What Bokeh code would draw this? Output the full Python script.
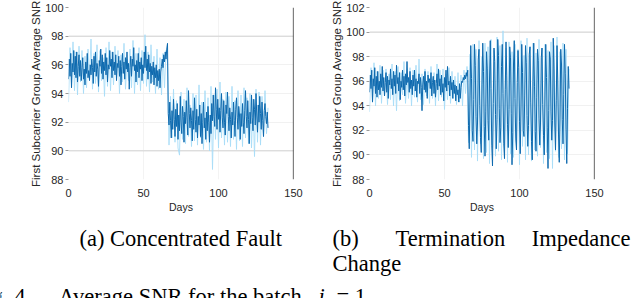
import numpy as np
from bokeh.plotting import figure
from bokeh.models import Range1d, FixedTicker, Span
from bokeh.layouts import row, column
from bokeh.core.properties import value
from bokeh.embed import file_html
from bokeh.resources import INLINE

# ---------------- data ----------------
x_ticks = [0, 50, 100, 150]
left_yticks = [88, 90, 92, 94, 96, 98, 100]
right_yticks = [88, 90, 92, 94, 96, 98, 100, 102]

# time axis (days): dark series sampled every half day, light series daily
days_half = np.arange(0, 133.01, 0.5)
days_full = np.arange(0, 134, 1)

# (a) Concentrated fault: dark series, days 0..66 then 66.5..133
a_dark_before = [
    95.0, 96.4, 95.2, 96.8, 94.4, 96.1, 95.5, 97.0, 95.3, 96.6,
    95.1, 96.9, 94.8, 95.9, 96.7, 95.2, 96.3, 94.9, 95.8, 96.5,
    95.0, 95.7, 94.6, 96.2, 95.4, 96.8, 95.1, 95.6, 94.9, 96.0,
    95.3, 96.4, 95.8, 94.7, 96.6, 95.5, 96.9, 95.2, 96.1, 95.7,
    94.5, 96.3, 95.9, 97.1, 95.4, 96.7, 95.0, 96.2, 95.6, 96.8,
    95.3, 96.5, 94.8, 96.0, 95.7, 97.0, 95.9, 96.4, 95.1, 96.9,
    95.6, 96.2, 95.3, 96.7, 94.9, 96.1, 95.8, 96.6, 95.2, 96.3,
    94.6, 95.9, 96.8, 95.4, 96.2, 95.0, 96.5, 95.7, 96.9, 95.5,
    96.1, 94.3, 95.8, 96.6, 95.2, 96.4, 95.9, 97.2, 95.6, 96.0,
    94.8, 96.3, 95.5, 96.8, 95.1, 96.2, 95.7, 96.5, 94.9, 96.0,
    95.4, 96.9, 95.8, 97.3, 95.6, 96.4, 95.0, 96.7, 95.5, 96.1,
    94.7, 95.9, 95.3, 96.2, 94.6, 95.8, 95.1, 96.0, 94.5, 95.6,
    94.9, 95.7, 94.4, 95.5, 95.9, 96.4, 95.8, 96.7, 96.2, 96.9,
    96.4, 97.1, 97.5,
]
a_dark_after = [
    92.6, 91.8, 93.4, 92.1, 90.9, 92.8, 91.5, 93.6, 92.2, 91.0,
    92.9, 91.7, 93.3, 90.8, 92.5, 91.4, 93.8, 92.0, 91.2, 93.1,
    92.4, 90.6, 92.7, 91.9, 93.5, 92.3, 91.1, 94.2, 92.6, 91.6,
    93.0, 92.1, 90.7, 92.8, 91.5, 93.7, 92.2, 91.3, 92.9, 90.9,
    92.4, 91.8, 93.2, 91.0, 92.6, 90.5, 92.0, 93.4, 91.6, 92.3,
    90.8, 92.7, 91.4, 93.1, 92.0, 90.6, 92.5, 91.2, 93.3, 92.1,
    93.9, 92.4, 91.7, 94.4, 92.9, 91.5, 93.6, 92.2, 93.0, 91.3,
    92.8, 94.0, 92.3, 91.6, 93.5, 92.0, 91.1, 93.2, 92.6, 94.1,
    92.4, 91.4, 93.0, 92.2, 90.9, 92.7, 91.8, 93.4, 92.1, 91.0,
    92.9, 93.7, 92.3, 91.5, 93.1, 92.5, 90.8, 92.6, 91.7, 93.3,
    92.0, 91.2, 92.8, 94.2, 92.4, 91.6, 93.5, 92.2, 90.5, 92.7,
    91.9, 93.9, 92.3, 91.4, 93.6, 92.9, 91.8, 94.0, 92.5, 91.3,
    93.2, 92.0, 93.8, 92.6, 91.5, 93.4, 92.1, 91.0, 92.8, 93.3,
    92.4, 91.9, 92.7, 91.6,
]
# (a) light series, days 0..66 then 67..133
a_light_before = [
    93.4, 97.2, 94.6, 97.6, 94.2, 96.9, 93.9, 97.3, 94.8, 97.0,
    94.0, 96.6, 94.4, 97.1, 95.0, 97.8, 94.3, 96.8, 94.7, 97.4,
    94.1, 97.0, 94.9, 96.5, 93.8, 97.2, 94.5, 97.6, 94.2, 96.9,
    94.6, 97.3, 95.1, 97.0, 94.0, 96.7, 94.8, 97.5, 94.3, 96.4,
    94.9, 97.1, 94.4, 97.7, 94.0, 96.8, 94.6, 97.2, 94.2, 97.0,
    94.7, 98.1, 94.5, 96.9, 94.1, 97.4, 94.8, 96.6, 94.0, 97.1,
    94.3, 96.5, 93.9, 96.8, 94.4, 97.0, 96.2,
]
a_light_after = [
    90.4, 93.8, 90.9, 94.3, 90.6, 93.5, 90.2, 89.7, 94.1, 90.8,
    93.6, 90.5, 94.4, 91.0, 93.2, 90.3, 94.0, 90.7, 93.9, 90.4,
    94.6, 90.9, 93.4, 90.1, 94.2, 90.6, 93.7, 90.0, 94.5, 88.7,
    93.9, 90.8, 94.3, 90.2, 94.8, 90.9, 93.6, 90.4, 94.1, 90.6,
    93.8, 90.3, 94.5, 90.8, 93.5, 90.1, 94.2, 90.7, 93.9, 90.3,
    94.4, 90.9, 93.7, 90.5, 94.0, 90.2, 93.6, 89.6, 94.3, 90.6,
    94.1, 90.4, 93.8, 91.0, 94.2, 91.2, 93.0,
]

# (b) Termination impedance change: dark series, days 0..65.5 then 66..133
b_dark_before = [
    95.1, 96.5, 95.4, 96.9, 94.3, 96.2, 95.6, 97.1, 95.0, 96.4,
    94.7, 96.8, 95.3, 96.0, 94.9, 96.6, 95.5, 97.2, 95.2, 96.3,
    94.8, 95.9, 96.7, 95.1, 96.4, 94.6, 96.1, 95.7, 97.0, 95.4,
    96.2, 94.9, 96.8, 95.6, 96.5, 95.0, 97.3, 95.8, 96.3, 95.2,
    96.7, 94.5, 96.0, 95.5, 96.9, 95.3, 96.4, 94.8, 96.6, 95.7,
    97.6, 95.9, 96.3, 95.1, 96.8, 95.4, 96.1, 94.9, 96.5, 95.6,
    96.9, 95.2, 96.2, 94.7, 96.0, 95.8, 96.6, 95.0, 96.3, 95.5,
    93.6, 95.7, 96.4, 95.3, 96.8, 95.1, 96.0, 94.6, 96.5, 95.9,
    96.2, 95.4, 96.7, 94.8, 95.9, 96.4, 95.0, 96.1, 94.7, 95.8,
    96.6, 95.3, 97.0, 95.6, 96.2, 94.9, 96.5, 95.1, 95.8, 94.4,
    96.3, 95.5, 96.9, 95.2, 97.2, 95.7, 96.0, 94.8, 96.4, 95.3,
    95.9, 94.6, 96.1, 95.0, 95.7, 94.4, 95.6, 94.9, 95.3, 94.3,
    95.8, 94.6, 95.5, 96.0, 95.9, 96.3, 96.1, 96.5, 96.2, 96.7,
    96.4, 96.9,
]
b_dark_after = [
    92.4, 90.5, 94.8, 98.9, 96.2, 92.0, 91.1, 94.5, 99.0, 97.3,
    93.1, 90.9, 92.6, 97.8, 98.6, 94.0, 91.4, 90.2, 95.7, 99.1,
    96.8, 92.3, 89.9, 93.5, 98.4, 97.0, 92.8, 91.2, 96.1, 99.3,
    95.4, 90.8, 89.1, 94.2, 98.7, 97.6, 93.3, 90.5, 92.9, 99.4,
    98.1, 93.8, 91.0, 92.2, 97.2, 99.0, 95.0, 90.9, 89.7, 95.3,
    99.2, 96.5, 92.5, 90.6, 93.7, 98.8, 97.9, 93.4, 89.2, 91.8,
    97.4, 99.3, 94.6, 91.3, 90.4, 95.9, 98.5, 97.1, 92.7, 90.1,
    93.9, 99.0, 96.7, 92.0, 91.5, 94.8, 98.9, 97.5, 93.2, 90.7,
    92.4, 98.2, 98.8, 94.3, 91.1, 89.6, 96.0, 99.1, 95.6, 91.9,
    90.3, 94.7, 98.6, 97.7, 93.0, 90.8, 92.6, 97.9, 98.7, 94.1,
    91.6, 90.0, 95.2, 99.0, 96.3, 92.2, 88.9, 93.6, 98.4, 97.8,
    93.5, 91.2, 92.8, 99.5, 97.0, 92.6, 90.4, 94.4, 98.9, 96.1,
    91.7, 89.4, 93.0, 98.6, 97.4, 92.9, 90.9, 94.9, 99.0, 96.6,
    92.1, 89.3, 93.8, 97.2, 95.4,
]
# (b) light series, days 0..65 then 66..133
b_light_before = [
    93.5, 97.1, 94.3, 97.5, 94.0, 96.8, 94.6, 97.3, 94.2, 96.9,
    94.8, 97.0, 94.1, 96.6, 94.5, 97.4, 94.0, 96.8, 93.6, 97.2,
    94.4, 96.7, 94.9, 97.6, 94.2, 96.5, 94.6, 97.1, 94.0, 96.9,
    94.7, 97.3, 94.3, 97.8, 94.5, 96.6, 94.1, 97.0, 94.8, 96.8,
    94.2, 97.2, 94.6, 96.7, 94.0, 97.4, 94.4, 96.9, 94.7, 97.0,
    93.7, 96.6, 94.5, 97.1, 94.2, 96.8, 94.6, 96.4, 94.1, 96.7,
    94.3, 96.5, 94.0, 96.9, 95.0, 97.2,
]
b_light_after = [
    91.0, 98.2, 89.8, 99.0, 90.4, 98.6, 89.5, 99.3, 90.9, 98.0,
    89.7, 99.1, 90.2, 98.8, 89.3, 99.4, 90.6, 98.5, 89.9, 99.6,
    90.3, 98.9, 89.6, 100.1, 90.8, 98.7, 89.4, 99.2, 90.1, 98.4,
    89.8, 99.0, 90.5, 98.6, 89.2, 99.3, 90.7, 98.1, 89.6, 99.5,
    90.0, 98.8, 89.5, 99.1, 90.4, 98.3, 89.9, 99.4, 90.6, 98.7,
    89.3, 99.0, 90.2, 98.5, 89.7, 99.2, 88.9, 98.9, 90.3, 99.6,
    89.8, 98.4, 90.5, 99.1, 89.6, 98.6, 90.1, 97.0,
]

y_title = "First Subcarrier Group Average SNR"
x_title = "Days"
caption_a = "(a) Concentrated Fault"
caption_b_words = ["(b)", "Termination", "Impedance"]
caption_b_line2 = "Change"
fig_prefix = "Fig. 4."
fig_text = "Average SNR for the batch"
fig_var = "i"
fig_rest = "= 1"

DARK = "#0d69ae"
LIGHT = "#a8ddf7"
SANS = "Liberation Sans"
SERIF = "Liberation Serif"


def make_panel(width, border_left, border_right, ymin, ymax, yticks, strong):
    p = figure(width=width, height=215, x_range=Range1d(0, 150),
               y_range=Range1d(ymin, ymax), output_backend="svg",
               toolbar_location=None, min_border_left=border_left,
               min_border_right=border_right, min_border_top=7,
               min_border_bottom=33)
    p.outline_line_color = None
    p.background_fill_color = "white"
    p.border_fill_color = "white"

    p.xaxis.ticker = FixedTicker(ticks=x_ticks)
    p.yaxis.ticker = FixedTicker(ticks=yticks)
    p.xgrid.ticker = FixedTicker(ticks=x_ticks)
    p.ygrid.ticker = FixedTicker(ticks=yticks)
    p.xgrid.grid_line_color = "#f3f3f3"
    p.ygrid.grid_line_color = "#f1f1f1"

    for loc in strong:
        p.add_layout(Span(location=loc, dimension="width", line_color="#d2d2d2",
                          line_width=1, level="underlay"))
    # box line on the right-hand side
    p.add_layout(Span(location=150, dimension="height", line_color="black",
                      line_width=1.2))

    xa = p.xaxis[0]
    xa.axis_line_color = None
    xa.major_tick_line_color = None
    xa.minor_tick_line_color = None
    xa.major_label_standoff = 3
    xa.major_label_text_font = SANS
    xa.major_label_text_font_size = "11px"
    xa.major_label_text_color = "#262626"
    xa.axis_label = x_title
    xa.axis_label_text_font = SANS
    xa.axis_label_text_font_size = "10.5px"
    xa.axis_label_text_font_style = "normal"
    xa.axis_label_text_color = "#262626"
    xa.axis_label_standoff = 1

    ya = p.yaxis[0]
    ya.axis_line_color = None
    ya.minor_tick_line_color = None
    ya.major_tick_line_color = "#9a9a9a"
    ya.major_tick_in = 0
    ya.major_tick_out = 3
    ya.major_label_standoff = 2
    ya.major_label_text_font = SANS
    ya.major_label_text_font_size = "11px"
    ya.major_label_text_color = "#262626"
    ya.axis_label = y_title
    ya.axis_label_text_font = SANS
    ya.axis_label_text_font_size = "11.5px"
    ya.axis_label_text_font_style = "normal"
    ya.axis_label_text_color = "#262626"
    ya.axis_label_standoff = 0
    return p


left = make_panel(313, 68, 20, 88, 100, left_yticks, [98, 90])
left.line(days_full, a_light_before + a_light_after, line_color=LIGHT, line_width=0.9)
left.line(days_half, a_dark_before + a_dark_after, line_color=DARK, line_width=1.0)

right = make_panel(319, 56, 38, 88, 102, right_yticks, [100])
right.line(days_full, b_light_before + b_light_after, line_color=LIGHT, line_width=0.9)
right.line(days_half, b_dark_before + b_dark_after, line_color=DARK, line_width=1.0)

# caption strip: its data units are the page's pixels
cap = figure(width=632, height=83, x_range=Range1d(0, 632), y_range=Range1d(298, 215),
             output_backend="svg", toolbar_location=None, min_border=0,
             x_axis_location=None, y_axis_location=None)
cap.grid.visible = False
cap.outline_line_color = None
cap.background_fill_color = "white"
cap.border_fill_color = "white"

style = dict(text_font=value(SERIF), text_font_size="22.5px", text_color="black")
cap.text(x=[79], y=[238], text=[caption_a], text_baseline="alphabetic", **style)
cap.text(x=[332], y=[238], text=[caption_b_words[0]], text_baseline="alphabetic", **style)
cap.text(x=[395], y=[238], text=[caption_b_words[1]], text_baseline="alphabetic", **style)
cap.text(x=[630], y=[238], text=[caption_b_words[2]], text_baseline="alphabetic",
         text_align="right", **style)
cap.text(x=[332], y=[263], text=[caption_b_line2], text_baseline="alphabetic", **style)
cap.text(x=[30.5], y=[283], text=[fig_prefix], text_baseline="top", text_align="right", **style)
cap.text(x=[58], y=[283], text=[fig_text], text_baseline="top", **style)
cap.text(x=[318], y=[283], text=[fig_var], text_baseline="top", text_font_style="italic", **style)
cap.text(x=[336], y=[283], text=[fig_rest], text_baseline="top", **style)

page = column(row(left, right), cap)
open("out.html", "w").write(file_html(page, INLINE))
